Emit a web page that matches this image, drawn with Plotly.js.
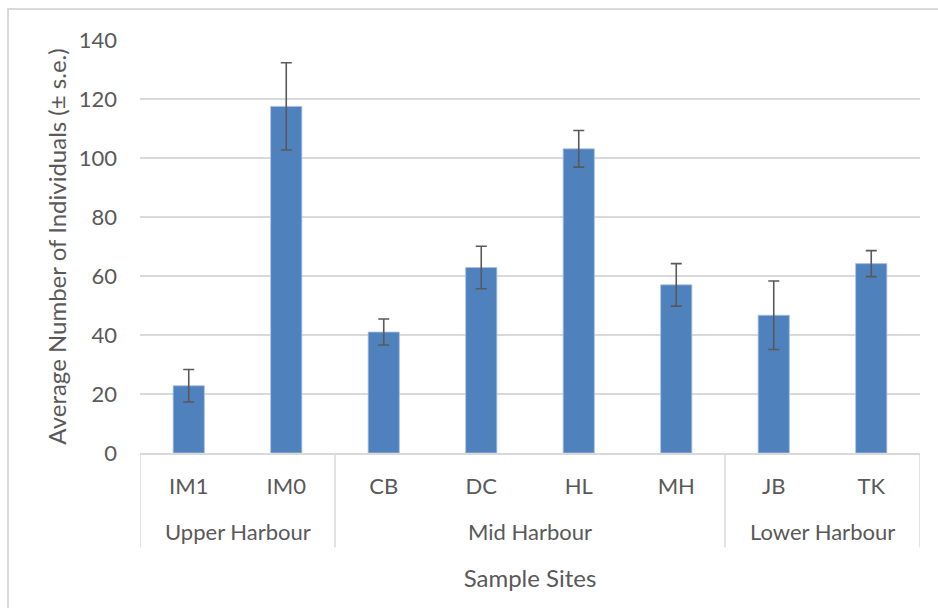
<!DOCTYPE html>
<html>
<head>
<meta charset="utf-8">
<script src="https://cdn.plot.ly/plotly-3.0.1.min.js"></script>
<style>
  html, body { margin: 0; padding: 0; background: #ffffff; }
  #frame { position: absolute; left: 7px; top: 8px; width: 1000px; height: 1000px;
           border-left: 2px solid #d9d9d9; border-top: 2px solid #d9d9d9; }
  #chart { position: absolute; left: 0; top: 0; width: 938px; height: 608px; }
</style>
</head>
<body>
<div id="frame"></div>
<div id="chart"></div>
<script>
const groups = ["Upper Harbour", "Upper Harbour", "Mid Harbour", "Mid Harbour", "Mid Harbour", "Mid Harbour", "Lower Harbour", "Lower Harbour"];
const sites = ["IM1", "IM0", "CB", "DC", "HL", "MH", "JB", "TK"];
const means = [22.8, 117.5, 41.0, 62.9, 103.1, 57.0, 46.7, 64.2];
const se = [5.5, 14.8, 4.4, 7.2, 6.2, 7.2, 11.6, 4.4];
const yTicks = [0, 20, 40, 60, 80, 100, 120, 140];

const font = "Lato, 'Open Sans', sans-serif";
const textColor = "#595959";
const lineColor = "#d9d9d9";

// group spans (start/end category index) built from the groups array
const spans = [];
groups.forEach((g, i) => {
  const last = spans[spans.length - 1];
  if (last && last.name === g) last.end = i;
  else spans.push({ name: g, start: i, end: i });
});

const groupAnnotations = spans.map(s => ({
  x: (s.start + s.end) / 2, xref: "x",
  y: -0.19, yref: "paper",
  text: s.name, showarrow: false,
  xanchor: "center", yanchor: "middle",
  font: { family: font, size: 22, color: textColor }
}));

const boundaries = [spans[0].start - 0.5].concat(spans.map(s => s.end + 0.5));
const dividerShapes = boundaries.map(b => ({
  type: "line", xref: "x", yref: "paper",
  x0: b, x1: b, y0: 0, y1: -0.2285,
  line: { color: lineColor, width: 1.5 }
}));

const trace = {
  type: "bar",
  x: sites,
  y: means,
  marker: { color: "#4f81bd", line: { color: "#a9c1e3", width: 0.8 } },
  error_y: { type: "data", array: se, visible: true, color: "#595959", thickness: 1.6, width: 5.5 },
  hoverinfo: "x+y"
};

const layout = {
  width: 938, height: 608,
  margin: { l: 140, r: 18, t: 40, b: 155 },
  paper_bgcolor: "rgba(0,0,0,0)",
  plot_bgcolor: "rgba(0,0,0,0)",
  bargap: 0.68,
  showlegend: false,
  font: { family: font, size: 22, color: textColor },
  xaxis: {
    type: "category",
    range: [-0.5, sites.length - 0.5],
    showline: true, linecolor: lineColor, linewidth: 1.5,
    showgrid: false, ticks: "",
    ticklabelstandoff: 13,
    tickfont: { family: font, size: 22, color: textColor },
    title: { text: "Sample Sites", font: { family: font, size: 24, color: textColor }, standoff: 72 },
    automargin: false
  },
  yaxis: {
    range: [0, 140],
    tickvals: yTicks,
    ticktext: yTicks.map(String),
    showgrid: true, gridcolor: lineColor, gridwidth: 1.5,
    zeroline: false, showline: false, ticks: "",
    ticklabelstandoff: 22,
    tickfont: { family: font, size: 22, color: textColor },
    title: { text: "Average Number of Individuals (± s.e.)", font: { family: font, size: 24, color: textColor }, standoff: 5 },
    automargin: false
  },
  annotations: groupAnnotations,
  shapes: dividerShapes
};

Plotly.newPlot("chart", [trace], layout, { displayModeBar: false, staticPlot: true });
</script>
</body>
</html>
